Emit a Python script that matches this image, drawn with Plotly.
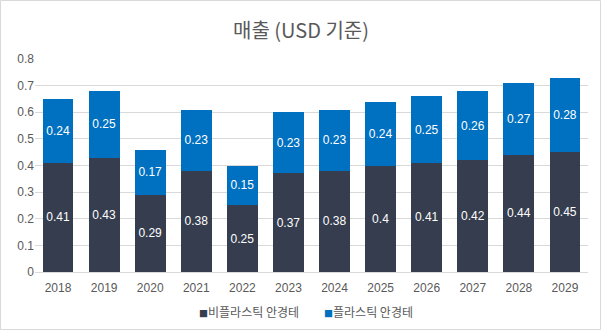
import plotly.graph_objects as go

years = ["2018", "2019", "2020", "2021", "2022", "2023", "2024", "2025", "2026", "2027", "2028", "2029"]
non_plastic = [0.41, 0.43, 0.29, 0.38, 0.25, 0.37, 0.38, 0.4, 0.41, 0.42, 0.44, 0.45]
plastic = [0.24, 0.25, 0.17, 0.23, 0.15, 0.23, 0.23, 0.24, 0.25, 0.26, 0.27, 0.28]
series_names = ["비플라스틱 안경테", "플라스틱 안경테"]
series_colors = ["#353D4E", "#0070C0"]

W, H = 602, 331
ML, MR, MT, MB = 35, 14, 59, 59
pw, ph = W - ML - MR, H - MT - MB

label_font = dict(family="Liberation Sans, Arial, sans-serif", size=12, color="white")

fig = go.Figure()
for vals, name, color in zip([non_plastic, plastic], series_names, series_colors):
    fig.add_trace(go.Bar(
        x=years, y=vals, name=name,
        marker=dict(color=color, line=dict(width=0)),
        texttemplate="%{y}", textposition="inside",
        insidetextanchor="middle", textfont=label_font, textangle=0,
        showlegend=False,
    ))

fig.update_layout(
    width=W, height=H,
    margin=dict(l=ML, r=MR, t=MT, b=MB, autoexpand=False),
    barmode="stack", bargap=0.33,
    paper_bgcolor="white", plot_bgcolor="white",
    title=dict(text="매출 (USD 기준)", x=0.5, xanchor="center", y=1 - 31 / H, yanchor="middle",
               font=dict(family="Noto Sans CJK KR, sans-serif", size=20, color="#595959")),
    font=dict(family="Liberation Sans, Arial, sans-serif", size=12, color="#595959"),
    xaxis=dict(showgrid=False, showline=True, linecolor="#D9D9D9", linewidth=1,
               ticks="", ticklabelstandoff=5, automargin=False,
               tickfont=dict(size=12, color="#595959")),
    yaxis=dict(range=[0, 0.8], dtick=0.1, tickformat="~g", showgrid=True, gridcolor="#D9D9D9",
               gridwidth=1, zeroline=False, ticks="", showline=False, automargin=False,
               tickfont=dict(size=12, color="#595959")),
    showlegend=False,
)

# legend entries: small colored square followed by the series name
legend_x = [0.5 - 63 / pw, 0.5 + 57 / pw]
for lx, name, color in zip(legend_x, series_names, series_colors):
    fig.add_annotation(
        xref="paper", yref="paper", x=lx, y=-(311 - 272) / ph,
        xanchor="center", yanchor="middle", showarrow=False,
        text=f'<span style="color:{color};font-size:9px">■</span>{name}',
        font=dict(family="Noto Sans CJK KR, sans-serif", size=12, color="#595959"),
    )

# light border around the whole chart
fig.add_shape(type="rect", xref="paper", yref="paper",
              x0=-(ML - 0.5) / pw, x1=1 + (MR - 1.5) / pw,
              y0=-(MB - 1.5) / ph, y1=1 + (MT - 0.5) / ph,
              line=dict(color="#D9D9D9", width=1), layer="below")

fig.write_html("out.html")
